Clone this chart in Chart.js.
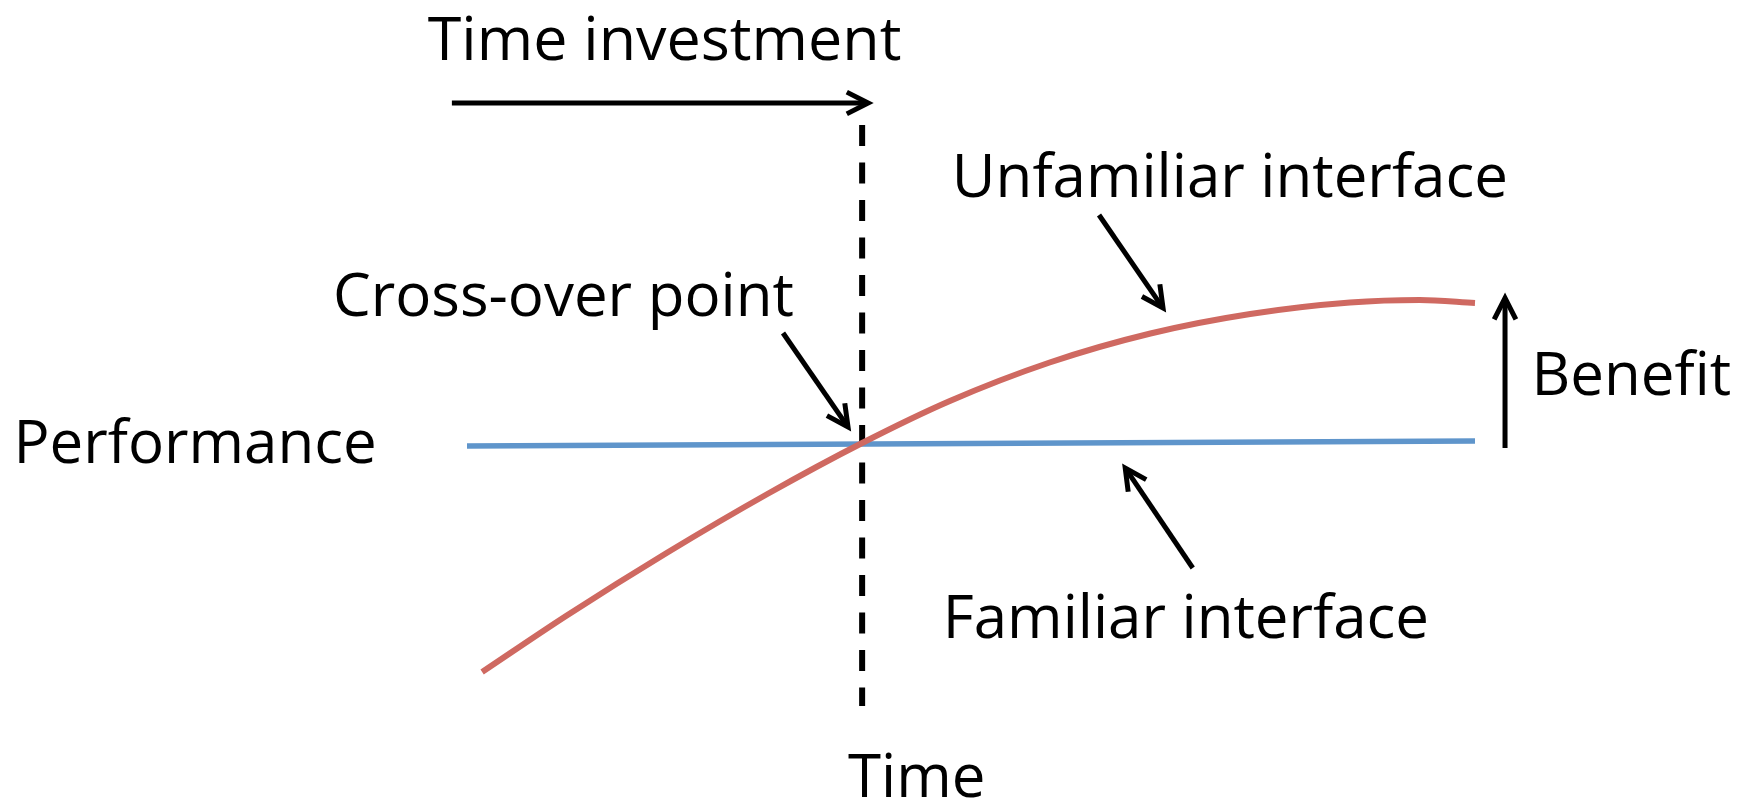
<!DOCTYPE html>
<html>
<head>
<meta charset="utf-8">
<script src="https://cdn.jsdelivr.net/npm/chart.js@4"></script>
<style>
  html, body { margin: 0; padding: 0; background: #fff; }
  #wrap { width: 1753px; height: 803px; }
</style>
</head>
<body>
<div id="wrap"><canvas id="myChart"></canvas></div>
<script>
// time (x) and performance (y)
const unfamiliarTime = [0.15, 0.99, 1.98, 2.98, 3.92, 4.79, 5.78, 6.78, 7.77, 8.76, 9.45, 10.0]
const unfamiliarPerf = [0.46, 1.59, 2.84, 4.02, 5.04, 5.88, 6.65, 7.23, 7.62, 7.85, 7.90, 7.84]
const familiarTime = [0, 10]
const familiarPerf = [4.98, 5.08]
const crossoverTime = 3.92
const crossoverSpan = [11.4, -0.22]

const labelTexts = ['Time investment', 'Unfamiliar interface', 'Cross-over point',
  'Performance', 'Benefit', 'Familiar interface', 'Time']

// where the notes sit, in time / performance units
const labelPos = [
  { t: -0.39, p: 12.70, size: 61 },
  { t: 4.81, p: 9.96, size: 60 },
  { t: -1.33, p: 7.58, size: 60 },
  { t: -4.50, p: 4.64, size: 60 },
  { t: 10.56, p: 6.00, size: 60 },
  { t: 4.72, p: 1.14, size: 60 },
  { t: 3.78, p: -2.04, size: 60 }
]
const arrows = [
  { from: [-0.15, 11.84], to: [3.98, 11.84] },
  { from: [3.135, 7.24], to: [3.78, 5.36] },
  { from: [6.27, 9.60], to: [6.905, 7.74] },
  { from: [7.20, 2.54], to: [6.53, 4.54] },
  { from: [10.298, 4.94], to: [10.298, 7.94] }
]

const zip = (xs, ys) => xs.map((v, i) => ({ x: v, y: ys[i] }))

const notes = {
  id: 'notes',
  afterDatasetsDraw (chart) {
    const { ctx, scales: { x, y } } = chart
    ctx.save()
    ctx.fillStyle = '#000'
    ctx.strokeStyle = '#000'
    ctx.textBaseline = 'alphabetic'
    labelTexts.forEach((txt, i) => {
      const l = labelPos[i]
      ctx.font = l.size + 'px "Open Sans"'
      ctx.fillText(txt, x.getPixelForValue(l.t), y.getPixelForValue(l.p))
    })
    ctx.lineWidth = 5
    ctx.lineJoin = 'miter'
    arrows.forEach(a => {
      const x0 = x.getPixelForValue(a.from[0]), y0 = y.getPixelForValue(a.from[1])
      const x1 = x.getPixelForValue(a.to[0]), y1 = y.getPixelForValue(a.to[1])
      const ang = Math.atan2(y1 - y0, x1 - x0)
      const len = 24, spread = 0.47
      ctx.beginPath()
      ctx.moveTo(x0, y0)
      ctx.lineTo(x1 - 2 * Math.cos(ang), y1 - 2 * Math.sin(ang))
      ctx.stroke()
      ctx.beginPath()
      ctx.moveTo(x1 - len * Math.cos(ang - spread), y1 - len * Math.sin(ang - spread))
      ctx.lineTo(x1, y1)
      ctx.lineTo(x1 - len * Math.cos(ang + spread), y1 - len * Math.sin(ang + spread))
      ctx.stroke()
    })
    ctx.restore()
  }
}

const ctx = document.getElementById('myChart')
new Chart(ctx, {
  type: 'line',
  data: {
    datasets: [
      {
        label: 'Unfamiliar interface',
        data: zip(unfamiliarTime, unfamiliarPerf),
        borderColor: '#cf6961',
        borderWidth: 6,
        pointRadius: 0,
        cubicInterpolationMode: 'monotone'
      },
      {
        label: 'Familiar interface',
        data: zip(familiarTime, familiarPerf),
        borderColor: '#5f95cb',
        borderWidth: 5.5,
        pointRadius: 0
      },
      {
        label: 'Cross-over',
        data: crossoverSpan.map(v => ({ x: crossoverTime, y: v })),
        borderColor: '#000',
        borderWidth: 6,
        borderDash: [21, 16.5],
        pointRadius: 0
      }
    ]
  },
  options: {
    responsive: true,
    maintainAspectRatio: false,
    animation: false,
    layout: { padding: 0 },
    plugins: { legend: { display: false }, tooltip: { enabled: false } },
    scales: {
      x: { type: 'linear', display: false, min: -4.633, max: 12.758 },
      y: { type: 'linear', display: false, min: -2.16, max: 13.9 }
    }
  },
  plugins: [notes]
})
</script>
</body>
</html>
